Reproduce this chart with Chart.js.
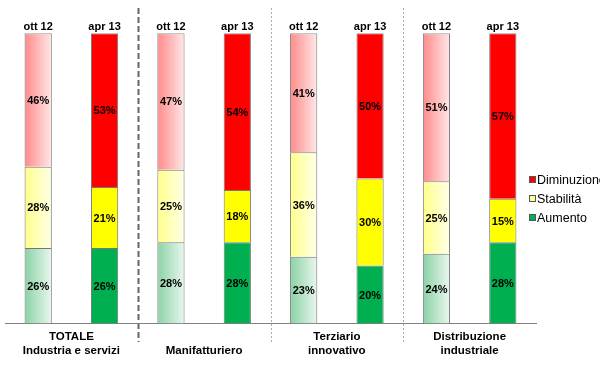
<!DOCTYPE html>
<html>
<head>
<meta charset="utf-8">
<script src="https://cdn.jsdelivr.net/npm/chart.js@4/dist/chart.umd.min.js"></script>
<style>
  body { margin: 0; background: #fff; font-family: Arial, "Liberation Sans", sans-serif; }
  #wrap { position: relative; width: 600px; height: 366px; overflow: hidden; }
  #legend { position: absolute; left: 529px; top: 170px; font-size: 12.5px; color: #000; white-space: nowrap; }
  #legend div { display: flex; align-items: center; height: 19px; }
  #legend span.box { display: inline-block; width: 5px; height: 5px; margin-right: 1px; border: 1px solid #555; }
</style>
</head>
<body>
<div id="wrap">
  <canvas id="chart"></canvas>
  <div id="legend"></div>
</div>
<script>
const periodLabels = ["ott 12", "apr 13", "ott 12", "apr 13", "ott 12", "apr 13", "ott 12", "apr 13"];
const groupLabels = [["TOTALE", "Industria e servizi"], ["", "Manifatturiero"], ["Terziario", "innovativo"], ["Distribuzione", "industriale"]];
const aumento = [26, 26, 28, 28, 23, 20, 24, 28];
const stabilita = [28, 21, 25, 18, 36, 30, 25, 15];
const diminuzione = [46, 53, 47, 54, 41, 50, 51, 57];

Chart.defaults.font.family = 'Arial, "Liberation Sans", sans-serif';
Chart.defaults.color = "#000";

// ott 12 bars are drawn with a pale left-to-right gradient, apr 13 bars solid
function fill(solid, light, pale) {
  return ctx => {
    if (ctx.dataIndex % 2 === 1) return solid;
    const chart = ctx.chart;
    const xs = chart.scales.x;
    if (!chart.chartArea || !xs) return light;
    const cx = xs.getPixelForValue(ctx.dataIndex);
    const g = chart.ctx.createLinearGradient(cx - 13, 0, cx + 13, 0);
    g.addColorStop(0, light);
    g.addColorStop(1, pale);
    return g;
  };
}

const valueLabels = {
  id: "valueLabels",
  afterDatasetsDraw(chart) {
    const c = chart.ctx;
    c.save();
    c.font = "bold 11px Arial, 'Liberation Sans', sans-serif";
    c.fillStyle = "#000";
    c.textAlign = "center";
    c.textBaseline = "middle";
    chart.data.datasets.forEach((ds, i) => {
      chart.getDatasetMeta(i).data.forEach((bar, j) => {
        const p = bar.getProps(["x", "y", "base"], true);
        c.fillText(ds.data[j] + "%", p.x, (p.y + p.base) / 2 + 1);
      });
    });
    c.restore();
  }
};

const separators = {
  id: "separators",
  beforeDraw(chart) {
    const xs = chart.scales.x;
    const c = chart.ctx;
    [1, 3, 5].forEach((i, k) => {
      const x = Math.round((xs.getPixelForValue(i) + xs.getPixelForValue(i + 1)) / 2) + 0.5;
      c.save();
      c.beginPath();
      if (k === 0) {
        c.strokeStyle = "#666";
        c.lineWidth = 2;
        c.setLineDash([6, 3]);
      } else {
        c.strokeStyle = "#aaa";
        c.lineWidth = 1;
        c.setLineDash([2, 2]);
      }
      c.moveTo(x, 8);
      c.lineTo(x, 342);
      c.stroke();
      c.restore();
    });
  }
};

const border = { top: 1, left: 1, right: 1, bottom: 0 };

new Chart(document.getElementById("chart"), {
  type: "bar",
  data: {
    labels: periodLabels,
    datasets: [
      { label: "Aumento", data: aumento, backgroundColor: fill("#00B050", "#8cd3a6", "#e8f6ed") },
      { label: "Stabilità", data: stabilita, backgroundColor: fill("#FFFF00", "#ffff8c", "#ffffe6") },
      { label: "Diminuzione", data: diminuzione, backgroundColor: fill("#FF0000", "#ff8c8c", "#ffe6e6") }
    ]
  },
  options: {
    responsive: true,
    maintainAspectRatio: false,
    animation: false,
    layout: { padding: { top: 20, left: 5, right: 64, bottom: 2 } },
    datasets: {
      bar: {
        borderColor: "#777",
        borderWidth: border,
        borderSkipped: false,
        barPercentage: 0.41,
        categoryPercentage: 1
      }
    },
    plugins: {
      legend: { display: false },
      tooltip: { enabled: false }
    },
    scales: {
      x: {
        position: "top",
        stacked: true,
        grid: { display: false, drawTicks: false },
        border: { display: false },
        ticks: { padding: 0, font: { size: 11, weight: "bold" } }
      },
      x2: {
        type: "category",
        labels: groupLabels,
        position: "bottom",
        offset: true,
        grid: { display: false, drawTicks: false },
        border: { display: true, color: "#808080", width: 1 },
        ticks: { padding: 7, font: { size: 11.5, weight: "bold", lineHeight: 1.15 } }
      },
      y: {
        display: false,
        stacked: true,
        min: 0,
        max: 100
      }
    }
  },
  plugins: [separators, valueLabels]
});

const legend = document.getElementById("legend");
[["Diminuzione", "#FF0000"], ["Stabilità", "#FFFF99"], ["Aumento", "#00B050"]].forEach(([name, col]) => {
  const row = document.createElement("div");
  row.innerHTML = `<span class="box" style="background:${col}"></span>${name}`;
  legend.appendChild(row);
});
</script>
</body>
</html>
